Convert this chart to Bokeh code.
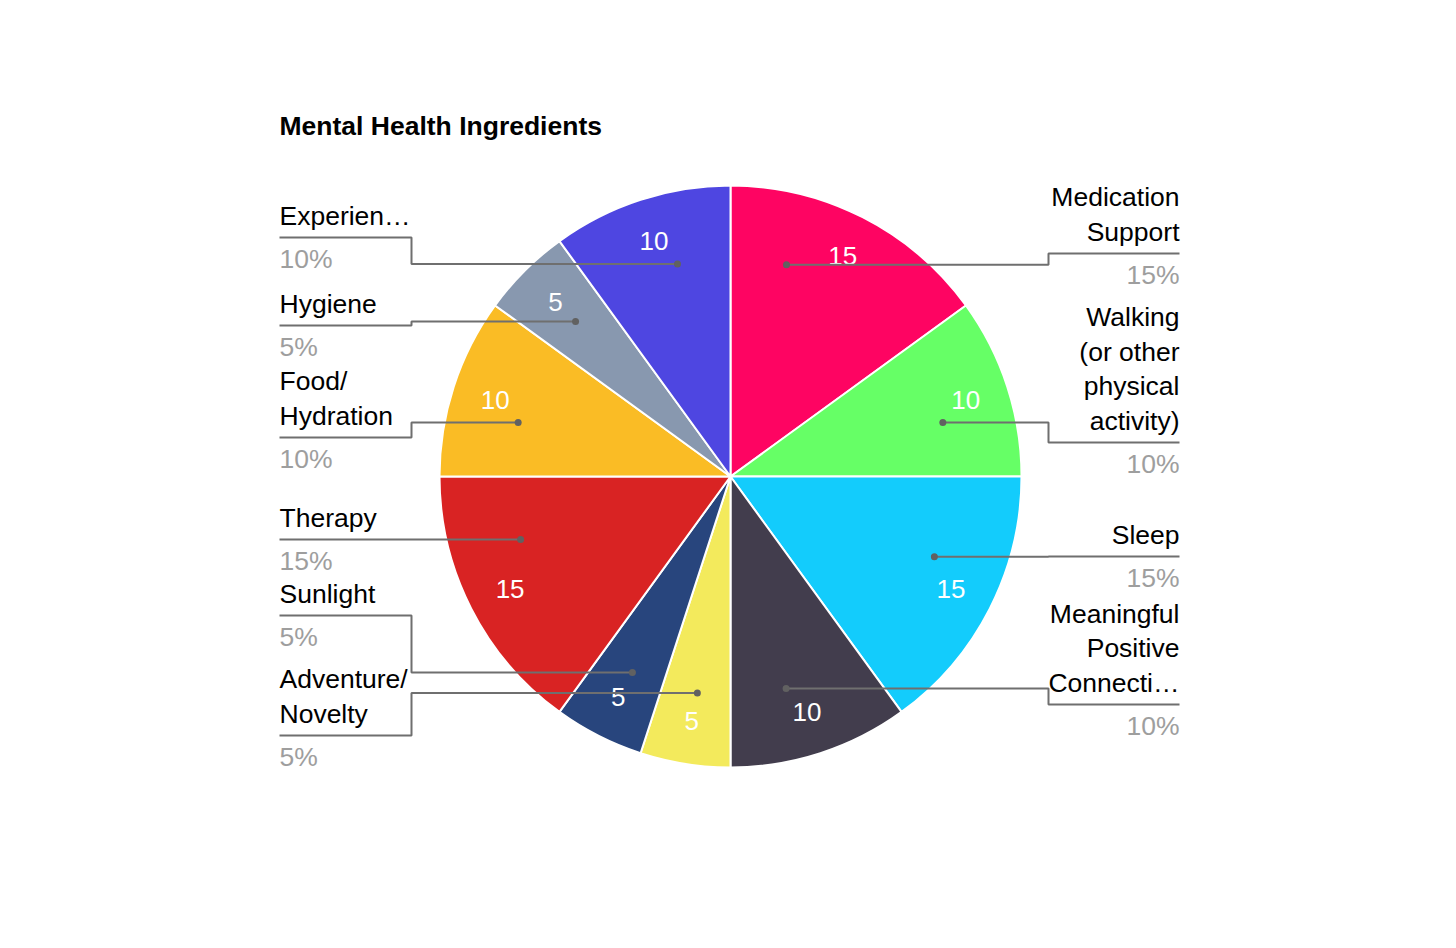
import math
from bokeh.plotting import figure
from bokeh.models import ColumnDataSource, Range1d
from bokeh.embed import file_html
from bokeh.resources import INLINE
from bokeh.core.properties import value

# ---------------- data ----------------
title_text = "Mental Health Ingredients"
categories = ["Medication Support", "Walking (or other physical activity)", "Sleep",
              "Meaningful Positive Connections", "Adventure/Novelty", "Sunlight",
              "Therapy", "Food/Hydration", "Hygiene", "Experiences"]
values = [15, 10, 15, 10, 5, 5, 15, 10, 5, 10]
label_lines = [["Medication", "Support"],
               ["Walking", "(or other", "physical", "activity)"],
               ["Sleep"],
               ["Meaningful", "Positive", "Connecti\u2026"],
               ["Adventure/", "Novelty"],
               ["Sunlight"],
               ["Therapy"],
               ["Food/", "Hydration"],
               ["Hygiene"],
               ["Experien\u2026"]]
colors = ["#FE0462", "#66FF66", "#13CCFC", "#423D4D", "#F3EA5C",
          "#28457D", "#D92323", "#FABC25", "#8898AF", "#4E46E1"]

# ---------------- layout (screen pixels) ----------------
W, H = 1440, 932
FONT = "Liberation Sans"
def fy(page_y):
    return H - page_y
CX, CY, R = 730, fy(476), 291
underline_page_y = [253, 442, 556, 704, 735, 615, 539, 437, 325, 237]
leader_nudge_deg = [-12.2, 3.7, -5.5, 3.3, -0.3, -0.4, 10.3, -3.7, 0.0, 4.0]
LEFT_EDGE, LEFT_ELBOW = 279, 411
RIGHT_EDGE, RIGHT_ELBOW = 1179, 1048
LINE_STEP = 34.5
VALUE_R = 0.85 * R
DOT_R = 0.753 * R

total = float(sum(values))
starts, ends, mids = [], [], []
acc = 0.0
for v in values:
    a0 = acc / total * 360.0
    acc += v
    a1 = acc / total * 360.0
    starts.append(a0); ends.append(a1); mids.append((a0 + a1) / 2)

p = figure(width=W, height=H, output_backend="svg", toolbar_location=None,
           x_range=Range1d(0, W), y_range=Range1d(0, H),
           min_border=0, min_border_left=0, min_border_right=0,
           min_border_top=0, min_border_bottom=0)
p.axis.visible = False
p.grid.visible = False
p.outline_line_color = None
p.background_fill_color = "white"
p.border_fill_color = "white"

src = ColumnDataSource(dict(
    x=[CX] * len(values), y=[CY] * len(values),
    start=[math.radians(90 - e) for e in ends],
    end=[math.radians(90 - s) for s in starts],
    color=colors, cat=categories, val=values))
p.wedge(x="x", y="y", radius=R, start_angle="start", end_angle="end",
        direction="anticlock", fill_color="color", line_color="white",
        line_width=2, source=src)

# value labels inside slices
vx = [CX + VALUE_R * math.sin(math.radians(m)) for m in mids]
vy = [CY + VALUE_R * math.cos(math.radians(m)) for m in mids]
p.text(x=vx, y=vy, text=[str(v) for v in values], text_color="white",
       text_font=value(FONT), text_font_size="26px",
       text_align="center", text_baseline="middle")

# leader lines, labels
lxs, lys, dxs, dys = [], [], [], []
tx, ty, tt, ta = [], [], [], []
px, py, pt, pa = [], [], [], []
for i, v in enumerate(values):
    ang = math.radians(mids[i] + leader_nudge_deg[i])
    dx = CX + DOT_R * math.sin(ang)
    dy = CY + DOT_R * math.cos(ang)
    right = mids[i] < 180
    ul = fy(underline_page_y[i])
    edge = RIGHT_EDGE if right else LEFT_EDGE
    elbow = RIGHT_ELBOW if right else LEFT_ELBOW
    lxs.append([dx, elbow, elbow, edge])
    lys.append([dy, dy, ul, ul])
    dxs.append(dx); dys.append(dy)
    lines = label_lines[i]
    n = len(lines)
    for j, s in enumerate(lines):
        tx.append(edge)
        ty.append(ul + 22 + LINE_STEP * (n - 1 - j))
        tt.append(s)
        ta.append("right" if right else "left")
    px.append(edge); py.append(ul - 21)
    pt.append("%d%%" % round(v / total * 100)); pa.append("right" if right else "left")

p.multi_line(xs=lxs, ys=lys, line_color="#6f6f6f", line_width=2)
p.scatter(x=dxs, y=dys, size=7, marker="circle", fill_color="#616161", line_color=None)

p.text(x=tx, y=ty, text=tt, text_align=ta, text_baseline="middle",
       text_color="#000000", text_font=value(FONT), text_font_size="26.5px")
p.text(x=px, y=py, text=pt, text_align=pa, text_baseline="middle",
       text_color="#9e9e9e", text_font=value(FONT), text_font_size="26.5px")

# title
p.text(x=[279], y=[fy(125)], text=[title_text], text_align="left",
       text_baseline="middle", text_color="#000000", text_font=value(FONT),
       text_font_size="26.5px", text_font_style="bold")

open("out.html", "w").write(file_html(p, INLINE))
